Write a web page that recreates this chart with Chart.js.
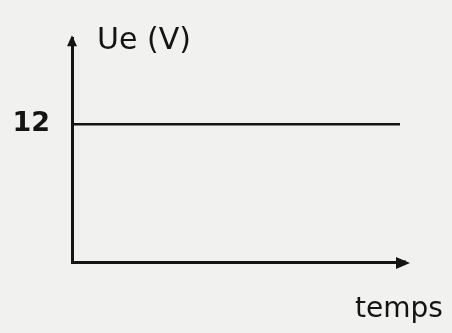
<!DOCTYPE html>
<html>
<head>
<meta charset="utf-8">
<script src="https://cdn.jsdelivr.net/npm/chart.js@4"></script>
<style>
  body { margin: 0; background: #f1f1ef; }
  #wrap { width: 452px; height: 333px; }
</style>
</head>
<body>
<div id="wrap"><canvas id="chart" width="452" height="333"></canvas></div>
<script>
// Ue(t) : tension constante de 12 V
const times = [0, 10];
const voltage = [12, 12];
const yTicks = [12];
const yLabel = 'Ue (V)';
const xLabel = 'temps';

const ink = '#141414';
const hand = '"DejaVu Sans", sans-serif';

// arrows and axis names, drawn on top of the chart
const axisArrows = {
  id: 'axisArrows',
  afterDraw(chart) {
    const c = chart.ctx, a = chart.chartArea;
    c.save();
    c.strokeStyle = ink;
    c.fillStyle = ink;
    c.lineWidth = 3;
    // x axis extension + arrow head
    c.beginPath();
    c.moveTo(a.right, a.bottom);
    c.lineTo(a.right + 6, a.bottom);
    c.stroke();
    c.beginPath();
    c.moveTo(a.right + 10, a.bottom + 1);
    c.lineTo(a.right - 4, a.bottom - 5);
    c.lineTo(a.right - 4, a.bottom + 7);
    c.closePath();
    c.fill();
    // y axis arrow head
    c.beginPath();
    c.moveTo(a.left, a.top - 3);
    c.lineTo(a.left - 5, a.top + 8);
    c.lineTo(a.left + 5, a.top + 8);
    c.closePath();
    c.fill();
    // axis names
    c.textBaseline = 'alphabetic';
    c.font = '30px ' + hand;
    c.fillText(yLabel, a.left + 25, a.top + 11);
    c.font = '28px ' + hand;
    c.fillText(xLabel, a.right - 45, a.bottom + 55);
    c.restore();
  }
};

new Chart(document.getElementById('chart'), {
  type: 'line',
  data: {
    labels: times,
    datasets: [{
      data: times.map((t, i) => ({ x: t, y: voltage[i] })),
      borderColor: ink,
      borderWidth: 2.5,
      pointRadius: 0,
      tension: 0
    }]
  },
  options: {
    responsive: false,
    animation: false,
    layout: { padding: { top: 30, right: 52, left: 0, bottom: 0 } },
    plugins: { legend: { display: false }, tooltip: { enabled: false } },
    scales: {
      x: {
        type: 'linear',
        min: 0,
        max: 10,
        grid: { display: false },
        border: { display: true, color: ink, width: 3 },
        ticks: { display: false },
        afterFit(s) { s.height = 71; }
      },
      y: {
        min: 0,
        max: 19.5,
        grid: { display: false, drawTicks: false },
        border: { display: true, color: ink, width: 3 },
        afterBuildTicks(s) { s.ticks = yTicks.map(v => ({ value: v })); },
        ticks: {
          color: ink,
          padding: 22,
          font: { family: hand, size: 27, weight: 'bold' }
        },
        afterFit(s) { s.width = 72; }
      }
    }
  },
  plugins: [axisArrows]
});
</script>
</body>
</html>
